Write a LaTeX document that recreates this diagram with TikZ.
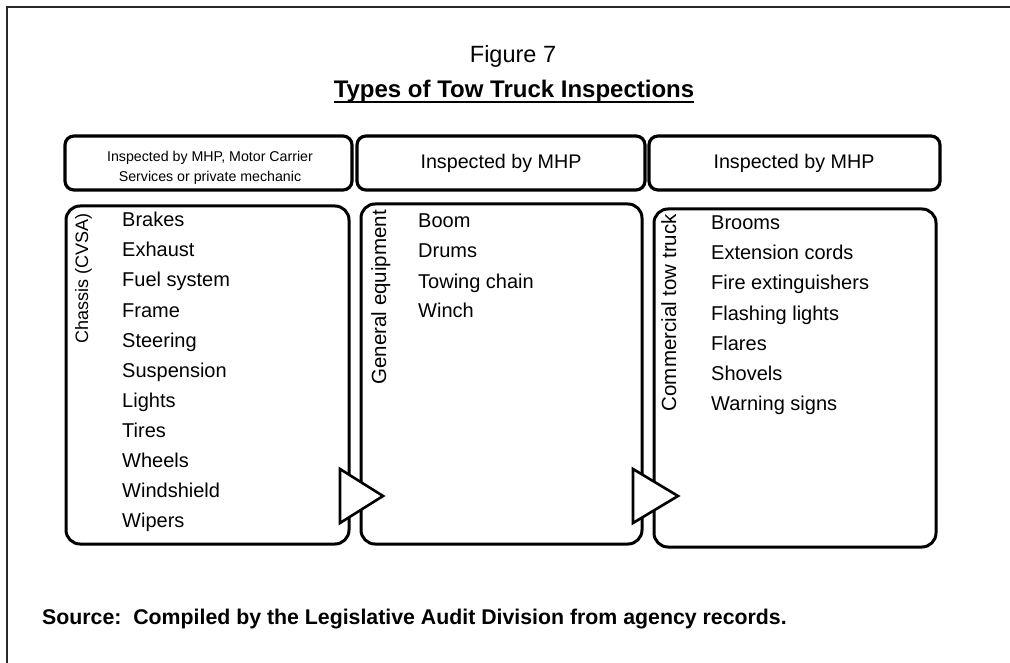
\documentclass[tikz,border=0pt]{standalone}
\usepackage{fontspec}
\setmainfont{Liberation Sans}
\definecolor{framegray}{RGB}{40,40,40}
\tikzset{
  hdrbox/.style={draw=black, line width=3.2pt, rounded corners=9pt},
  panelbox/.style={draw=black, line width=3pt, rounded corners=14pt},
  pointer/.style={draw=black, fill=white, line width=2.6pt, line join=miter},
  itemtext/.style={anchor=base west, inner sep=0pt, font=\fontsize{20}{24}\selectfont},
  hdrtext/.style={anchor=base, inner sep=0pt, font=\fontsize{19.7}{24}\selectfont},
  vlabel/.style={rotate=90, anchor=base east, inner sep=0pt},
}
\begin{document}
\begin{tikzpicture}[x=1pt,y=-1pt]
\useasboundingbox (0,0) rectangle (1010,663);
% frame
\draw[framegray, line width=2.5pt] (7,663) -- (7,7) -- (1010,7);
% title
\node[anchor=base, inner sep=0pt, font=\fontsize{23.5}{28}\selectfont] (fig) at (513,63) {Figure 7};
\node[anchor=base, inner sep=0pt, font=\bfseries\fontsize{24}{28}\selectfont] (title) at (514,98) {Types of Tow Truck Inspections};
\draw[line width=2pt] ([yshift=-4.5pt]title.base west) -- ([yshift=-4.5pt]title.base east);
% header boxes
\draw[hdrbox] (65,136) rectangle (352,190);
\draw[hdrbox] (357,136) rectangle (645,190);
\draw[hdrbox] (649,136) rectangle (940,190);
\node[anchor=center, align=center, inner sep=0pt, font=\fontsize{14.2}{20}\selectfont] (h1) at (210,168) {Inspected by MHP, Motor Carrier\\Services or private mechanic};
\node[hdrtext] (h2) at (501,169) {Inspected by MHP};
\node[hdrtext] (h3) at (794,169) {Inspected by MHP};
% lower panels
\draw[panelbox] (66,206) rectangle (349,544);
\draw[panelbox] (361,204) rectangle (642,544);
\draw[panelbox] (654,209) rectangle (936,547);
% vertical labels
\node[vlabel, font=\fontsize{18}{22}\selectfont] (v1) at (88,213) {Chassis (CVSA)};
\node[vlabel, font=\fontsize{20.5}{24}\selectfont] (v2) at (386,210) {General equipment};
\node[vlabel, font=\fontsize{20.5}{24}\selectfont] (v3) at (676,214) {Commercial tow truck};
% items
\foreach \t [count=\i] in {Brakes,Exhaust,Fuel system,Frame,Steering,Suspension,Lights,Tires,Wheels,Windshield,Wipers}
  \node[itemtext] (a\i) at (122,{227+(\i-1)*30}) {\t};
\foreach \t [count=\i] in {Boom,Drums,Towing chain,Winch}
  \node[itemtext] (b\i) at (418,{228+(\i-1)*30}) {\t};
\foreach \t [count=\i] in {Brooms,Extension cords,Fire extinguishers,Flashing lights,Flares,Shovels,Warning signs}
  \node[itemtext] (c\i) at (711,{230+(\i-1)*30}) {\t};
% pointer triangles
\draw[pointer] (340,469) -- (383,496) -- (340,523) -- cycle;
\draw[pointer] (633,469) -- (678,496) -- (633,523) -- cycle;
% source
\node[anchor=base west, inner sep=0pt, font=\bfseries\fontsize{21.3}{26}\selectfont] (src) at (42,624) {Source:\ \ Compiled by the Legislative Audit Division from agency records.};
\end{tikzpicture}
\end{document}
